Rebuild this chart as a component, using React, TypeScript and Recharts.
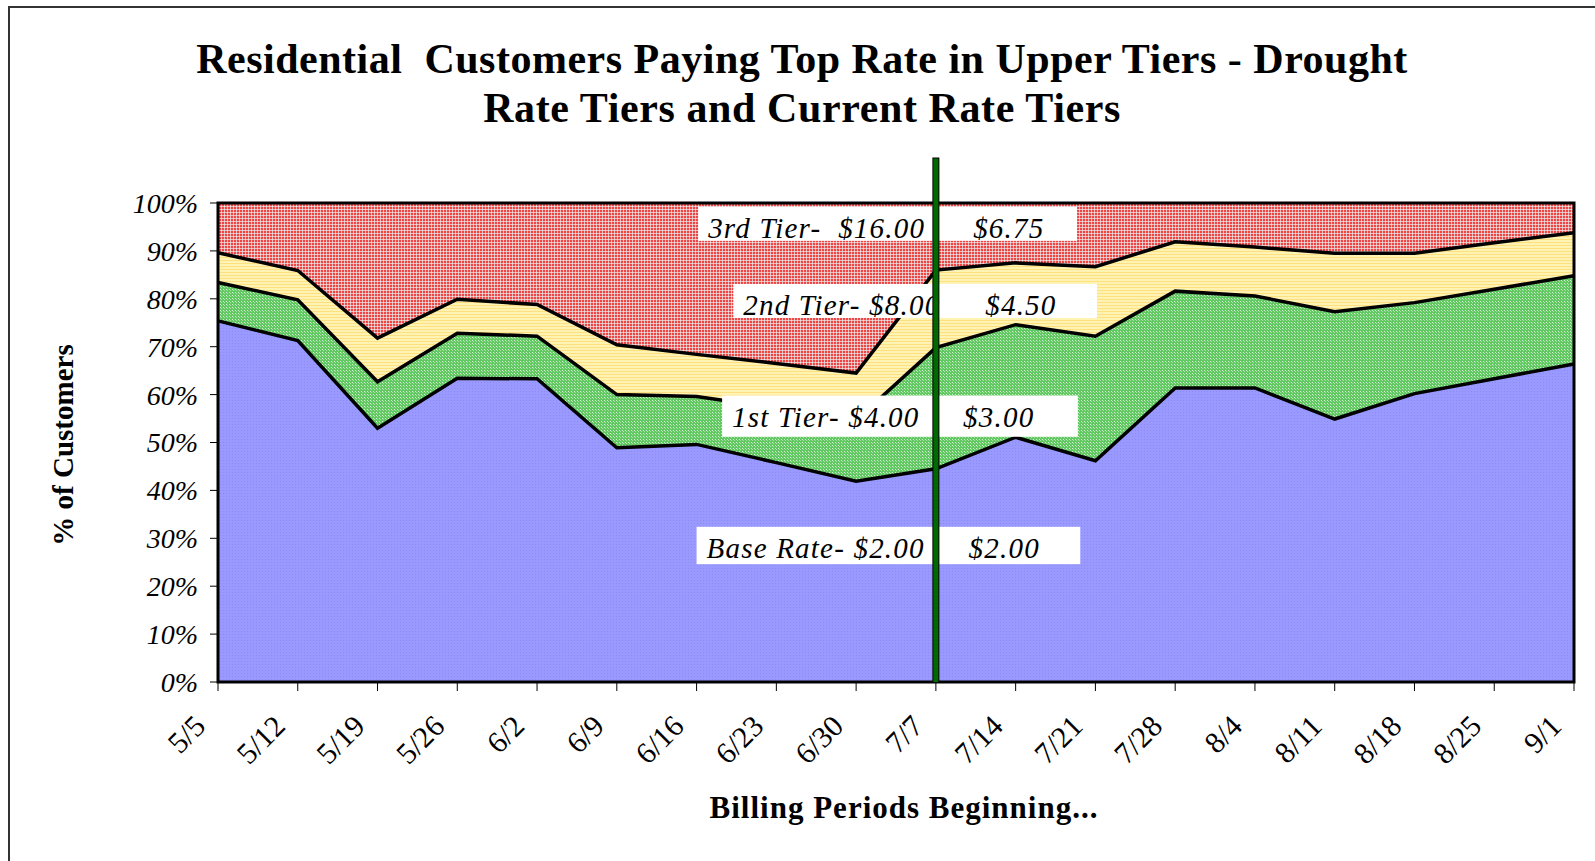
import React from 'react';
import { ComposedChart, Area, Line, XAxis, YAxis, ReferenceArea, ReferenceLine } from 'recharts';

// billing periods (week beginning)
const periods = ['5/5', '5/12', '5/19', '5/26', '6/2', '6/9', '6/16', '6/23', '6/30', '7/7', '7/14', '7/21', '7/28', '8/4', '8/11', '8/18', '8/25', '9/1'];

// % of customers whose top rate falls in each tier
const baseRate = [75.4, 71.3, 53.0, 63.4, 63.3, 48.9, 49.6, 45.8, 41.9, 44.5, 51.1, 46.2, 61.4, 61.4, 54.9, 60.2, 63.3, 66.4];
const tier1 = [8.0, 8.5, 9.7, 9.4, 8.9, 11.1, 10.0, 11.4, 12.8, 25.3, 23.5, 26.0, 20.2, 19.2, 22.4, 19.0, 18.7, 18.4];
const tier2 = [6.2, 6.1, 9.1, 7.1, 6.6, 10.4, 8.8, 9.3, 9.8, 16.2, 12.9, 14.5, 10.3, 10.2, 12.2, 10.3, 9.7, 9.0];
const tier3 = [10.4, 14.1, 28.2, 20.1, 21.2, 29.6, 31.6, 33.5, 35.5, 14.0, 12.5, 13.3, 8.1, 9.2, 10.5, 10.5, 8.3, 6.2];

const yTicks = [0, 10, 20, 30, 40, 50, 60, 70, 80, 90, 100];

// rate labels: drought rate / current rate
const tierNames = ['3rd Tier-  $16.00', '2nd Tier- $8.00', '1st Tier- $4.00', 'Base Rate- $2.00'];
const currentRates = ['$6.75', '$4.50', '$3.00', '$2.00'];

const data = periods.map((p, i) => ({
  period: p,
  base: baseRate[i],
  t1: tier1[i],
  t2: tier2[i],
  t3: tier3[i],
}));

// label box placement on a hidden 0..17 axis (index of period) and in %
const boxes = [
  { x1: 6.02, x2: 10.77, y1: 92.1, y2: 99.2, rateDx: 275 },
  { x1: 6.46, x2: 11.02, y1: 76.0, y2: 83.1, rateDx: 252 },
  { x1: 6.32, x2: 10.78, y1: 51.2, y2: 59.8, rateDx: 241 },
  { x1: 6.0, x2: 10.81, y1: 24.6, y2: 32.4, rateDx: 272 },
];

const SERIF = "'Liberation Serif', 'Times New Roman', serif";
const pre = { whiteSpace: 'pre' as const };

const XTick = (props: any) => {
  const { x, y, payload } = props;
  const ax = x - 11;
  const ay = y + 35;
  return (
    <text x={ax} y={ay} textAnchor="end" transform={`rotate(-45, ${ax}, ${ay})`}
      fontFamily={SERIF} fontSize={30} fill="#000">
      {payload.value}
    </text>
  );
};

const makeBox = (i: number) => (p: any) => (
  <g>
    <rect x={p.x} y={p.y} width={p.width} height={p.height} fill="#fff" />
    <text x={p.x + 10} y={p.y + 31} style={pre} fontFamily={SERIF} fontStyle="italic" fontSize={29} letterSpacing={1.2} fill="#000">
      {tierNames[i]}
    </text>
    <text x={p.x + boxes[i].rateDx} y={p.y + 31} fontFamily={SERIF} fontStyle="italic" fontSize={29} letterSpacing={1.2} fill="#000">
      {currentRates[i]}
    </text>
  </g>
);

// tier boundary lines (top of each stacked band)
const topBase = (d: any) => d.base;
const topT1 = (d: any) => d.base + d.t1;
const topT2 = (d: any) => d.base + d.t1 + d.t2;

export default function App() {
  return (
    <div style={{ position: 'absolute', left: 0, top: 0, width: 1595, height: 861, overflow: 'hidden', background: '#fff' }}>
      <div style={{ position: 'absolute', left: 8, top: 6, width: 1700, height: 1000, border: '2px solid #333' }} />
      <svg width={1595} height={861} style={{ position: 'absolute', left: 0, top: 0 }}>
        <text x={802} y={73} textAnchor="middle" style={pre} fontFamily={SERIF} fontWeight="bold" fontSize={42} letterSpacing={0.5}>
          {'Residential  Customers Paying Top Rate in Upper Tiers - Drought'}
        </text>
        <text x={802} y={122} textAnchor="middle" fontFamily={SERIF} fontWeight="bold" fontSize={42} letterSpacing={0.6}>
          Rate Tiers and Current Rate Tiers
        </text>
        <text x={73} y={445} textAnchor="middle" transform="rotate(-90, 73, 445)" fontFamily={SERIF} fontWeight="bold" fontSize={29}>
          % of Customers
        </text>
        <text x={904} y={818} textAnchor="middle" fontFamily={SERIF} fontWeight="bold" fontSize={31} letterSpacing={1}>
          Billing Periods Beginning...
        </text>
      </svg>
      <div style={{ position: 'absolute', left: 0, top: 0 }}>
        <ComposedChart width={1595} height={861} data={data} margin={{ top: 203, right: 21, bottom: 59, left: 118 }}>
          <defs>
            <pattern id="pRed" width="3" height="3" patternUnits="userSpaceOnUse">
              <rect width="3" height="3" fill="#EC4646" />
              <rect x="2" width="1" height="3" fill="#F2B8B8" />
              <rect y="2" width="3" height="1" fill="#F2B8B8" />
              <rect x="2" y="2" width="1" height="1" fill="#DCE8E8" />
            </pattern>
            <pattern id="pYellow" width="3" height="3" patternUnits="userSpaceOnUse">
              <rect width="3" height="3" fill="#FFF3B4" />
              <rect y="2" width="3" height="1" fill="#FFE080" />
            </pattern>
            <pattern id="pGreen" width="3" height="3" patternUnits="userSpaceOnUse">
              <rect width="3" height="3" fill="#62C862" />
              <rect x="1" y="1" width="1" height="1" fill="#D4F0D4" />
              <rect x="2" y="2" width="1" height="1" fill="#A8E0A8" />
            </pattern>
            <pattern id="pBlue" width="3" height="3" patternUnits="userSpaceOnUse">
              <rect width="3" height="3" fill="#9999FF" />
              <rect x="1" y="1" width="1" height="1" fill="#8C8CF0" />
            </pattern>
          </defs>
          <XAxis dataKey="period" interval={0} tickSize={9} height={120}
            axisLine={{ stroke: '#000', strokeWidth: 2 }} tickLine={{ stroke: '#000' }} tick={XTick} />
          <XAxis xAxisId="num" type="number" domain={[0, 17]} hide />
          <YAxis domain={[0, 100]} ticks={yTicks} tickFormatter={(v: number) => `${v}%`} width={100}
            tickSize={8} tickMargin={12} interval={0}
            axisLine={{ stroke: '#000', strokeWidth: 2 }} tickLine={{ stroke: '#000' }}
            tick={{ fill: '#000', fontSize: 28, fontStyle: 'italic', fontFamily: SERIF }} />
          <Area type="linear" dataKey="base" stackId="1" fill="url(#pBlue)" fillOpacity={1} stroke="none" isAnimationActive={false} dot={false} activeDot={false} />
          <Area type="linear" dataKey="t1" stackId="1" fill="url(#pGreen)" fillOpacity={1} stroke="none" isAnimationActive={false} dot={false} activeDot={false} />
          <Area type="linear" dataKey="t2" stackId="1" fill="url(#pYellow)" fillOpacity={1} stroke="none" isAnimationActive={false} dot={false} activeDot={false} />
          <Area type="linear" dataKey="t3" stackId="1" fill="url(#pRed)" fillOpacity={1} stroke="none" isAnimationActive={false} dot={false} activeDot={false} />
          <Line type="linear" dataKey={topBase} stroke="#000" strokeWidth={3.5} dot={false} activeDot={false} isAnimationActive={false} />
          <Line type="linear" dataKey={topT1} stroke="#000" strokeWidth={3.5} dot={false} activeDot={false} isAnimationActive={false} />
          <Line type="linear" dataKey={topT2} stroke="#000" strokeWidth={3.5} dot={false} activeDot={false} isAnimationActive={false} />
          <ReferenceArea xAxisId="num" x1={0} x2={17} y1={0} y2={100} fill="none" stroke="#000" strokeWidth={3} ifOverflow="visible" zIndex={900} />
          {boxes.map((b, i) => (
            <ReferenceArea key={i} xAxisId="num" x1={b.x1} x2={b.x2} y1={b.y1} y2={b.y2} ifOverflow="visible" shape={makeBox(i)} zIndex={1000} />
          ))}
          <ReferenceLine xAxisId="num" segment={[{ x: 9, y: 0 }, { x: 9, y: 109.5 }]} stroke="#000" strokeWidth={7} ifOverflow="visible" zIndex={1500} />
          <ReferenceLine xAxisId="num" segment={[{ x: 9, y: 0 }, { x: 9, y: 109.3 }]} stroke="#006A00" strokeWidth={5} ifOverflow="visible" zIndex={1500} />
        </ComposedChart>
      </div>
    </div>
  );
}
